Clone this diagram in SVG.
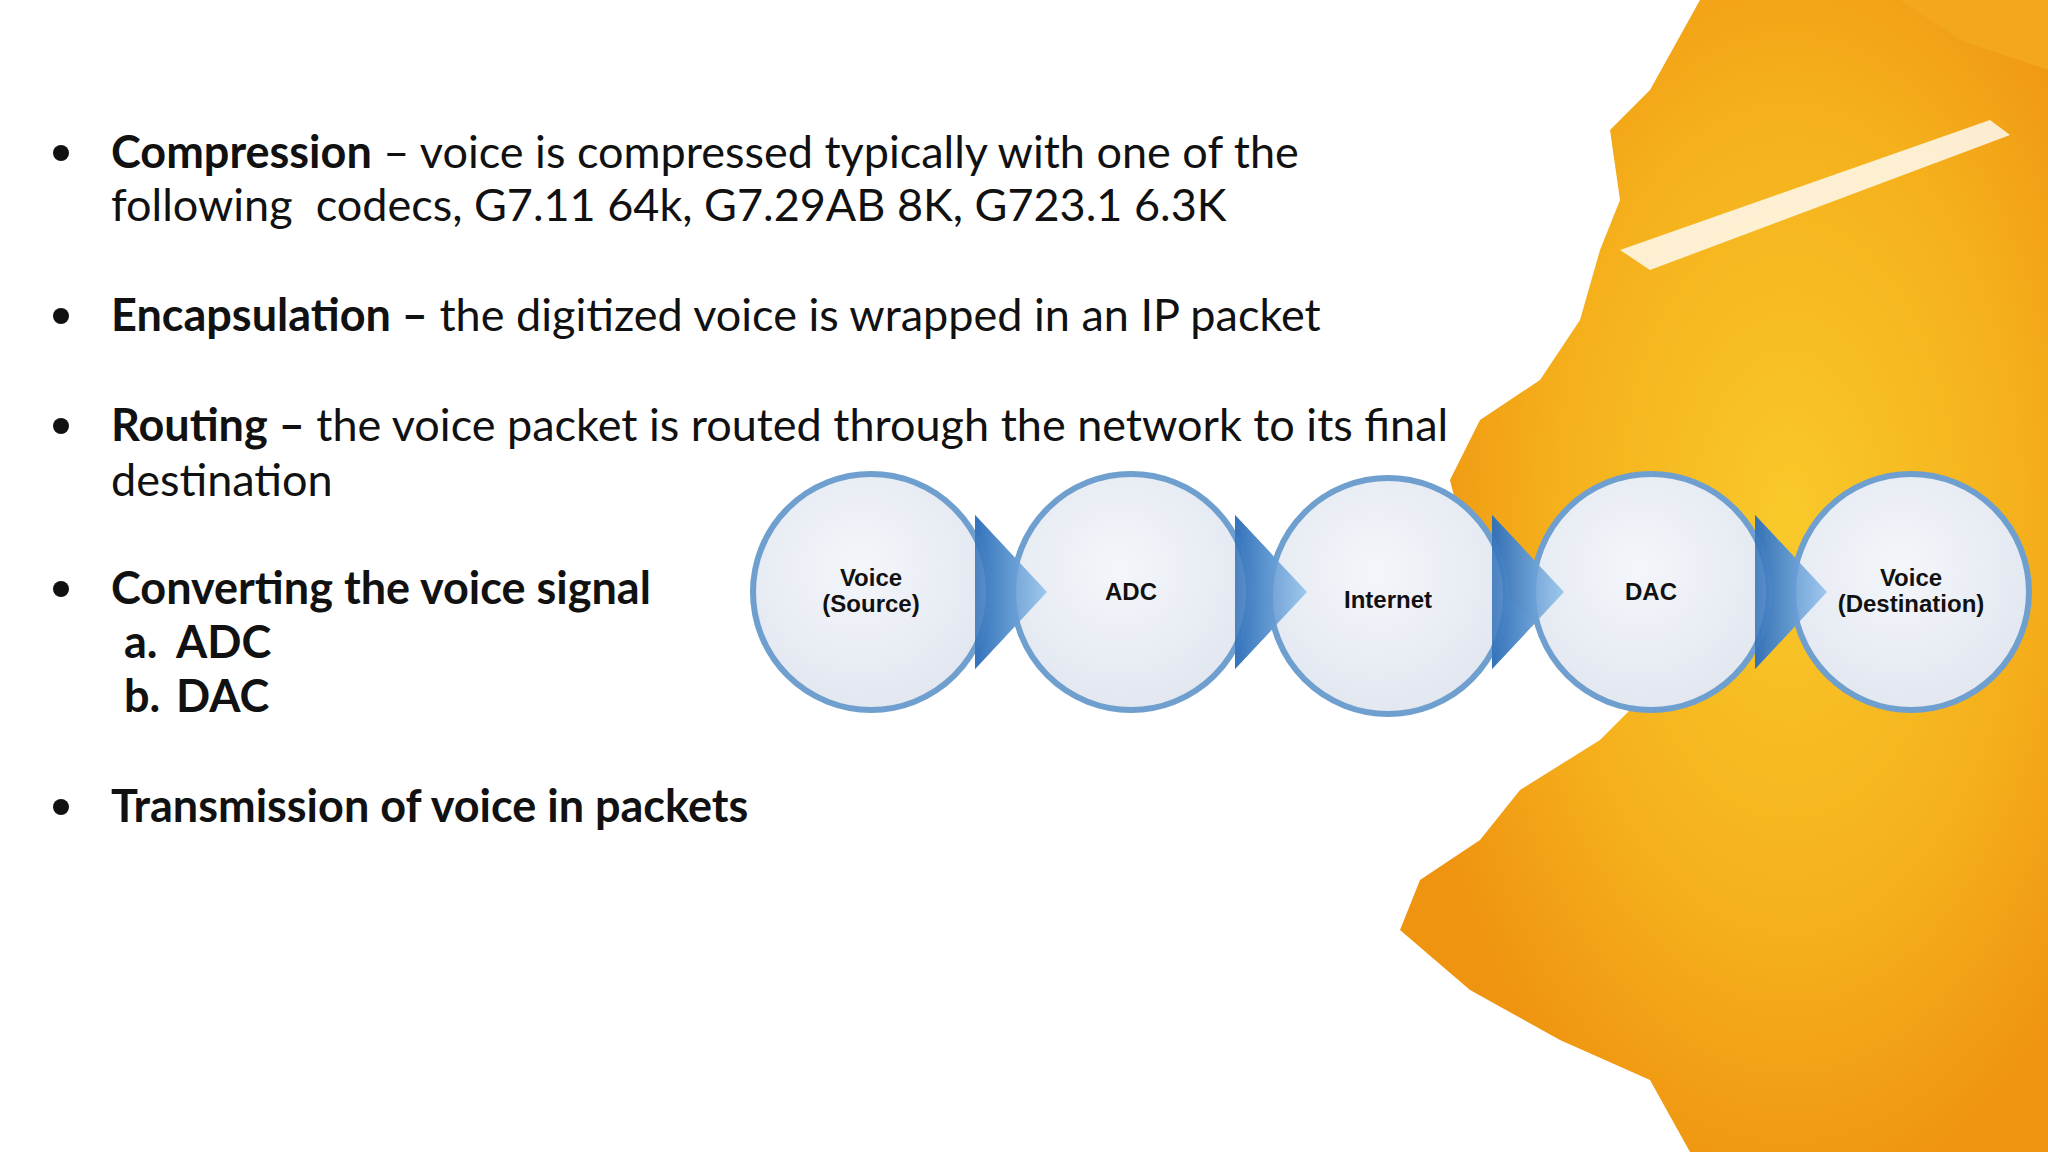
<svg xmlns="http://www.w3.org/2000/svg" width="2048" height="1152" viewBox="0 0 2048 1152">
<defs>
<radialGradient id="splash" cx="0.6" cy="0.45" r="0.6">
<stop offset="0" stop-color="#f9c92a"/><stop offset="0.6" stop-color="#f5b01c"/><stop offset="1" stop-color="#ef9410"/>
</radialGradient>
<linearGradient id="arr" x1="0" y1="0" x2="1" y2="0">
<stop offset="0" stop-color="#2f6fb8"/><stop offset="1" stop-color="#8fc0ec"/>
</linearGradient>
<radialGradient id="cf" cx="0.45" cy="0.4" r="0.6">
<stop offset="0" stop-color="#f4f6fa"/><stop offset="1" stop-color="#e2e7f0"/>
</radialGradient>
<style>
.t{font-family:Lato,"Open Sans",sans-serif;font-size:45px;fill:#111;white-space:pre}
.b{font-weight:bold}
.c{fill:url(#cf);stroke:#6f9fcf;stroke-width:6}
.l{font-family:"Liberation Sans",Arial,sans-serif;font-weight:bold;font-size:24px;fill:#111;text-anchor:middle}
.p{fill:url(#arr);opacity:0.85}
</style>
</defs>
<rect width="2048" height="1152" fill="#fff"/>
<g id="background">
<path d="M1700 0 L2048 0 L2048 1152 L1690 1152 L1650 1080 L1560 1040 L1470 990 L1400 930 L1420 880 L1480 840 L1520 790 L1600 740 L1640 700 L1560 650 L1470 560 L1450 480 L1480 420 L1540 380 L1580 320 L1600 250 L1620 200 L1610 130 L1650 90 Z" fill="url(#splash)"/>
<path d="M1620 250 L1990 120 L2010 135 L1650 270 Z" fill="#fff" opacity="0.8"/>
<path d="M1900 0 L2048 0 L2048 70 L1960 40 Z" fill="#f3a81c"/>
</g>
<g id="text">
<circle cx="61" cy="153" r="8" fill="#111"/>
<text class="t" x="111" y="168"><tspan class="b">Compression</tspan> – voice is compressed typically with one of the</text>
<text class="t" x="111" y="221">following  codecs, G7.11 64k, G7.29AB 8K, G723.1 6.3K</text>
<circle cx="61" cy="316" r="8" fill="#111"/>
<text class="t" x="111" y="331"><tspan class="b">Encapsulation –</tspan> the digitized voice is wrapped in an IP packet</text>
<circle cx="61" cy="426" r="8" fill="#111"/>
<text class="t" x="111" y="441"><tspan class="b">Routing –</tspan> the voice packet is routed through the network to its final</text>
<text class="t" x="111" y="496">destination</text>
<circle cx="61" cy="589" r="8" fill="#111"/>
<text class="t b" x="111" y="604">Converting the voice signal</text>
<text class="t b" x="124" y="658">a.</text><text class="t b" x="176" y="658">ADC</text>
<text class="t b" x="124" y="712">b.</text><text class="t b" x="176" y="712">DAC</text>
<circle cx="61" cy="807" r="8" fill="#111"/>
<text class="t b" x="111" y="822">Transmission of voice in packets</text>
</g>
<g id="connectors">
<path class="p" d="M975 515 L1047 592 L975 669 Z"/>
<path class="p" d="M1235 515 L1307 592 L1235 669 Z"/>
<path class="p" d="M1492 515 L1564 592 L1492 669 Z"/>
<path class="p" d="M1755 515 L1827 592 L1755 669 Z"/>
</g>
<g id="n1"><circle class="c" cx="871" cy="592" r="118"/><text class="l" x="871" y="586">Voice</text><text class="l" x="871" y="612">(Source)</text></g>
<g id="n2"><circle class="c" cx="1131" cy="592" r="118"/><text class="l" x="1131" y="600">ADC</text></g>
<g id="n3"><circle class="c" cx="1388" cy="596" r="118"/><text class="l" x="1388" y="608">Internet</text></g>
<g id="n4"><circle class="c" cx="1651" cy="592" r="118"/><text class="l" x="1651" y="600">DAC</text></g>
<g id="n5"><circle class="c" cx="1911" cy="592" r="118"/><text class="l" x="1911" y="586">Voice</text><text class="l" x="1911" y="612">(Destination)</text></g>
<g id="overlay">
<path class="p" d="M975 515 L1047 592 L975 669 Z" opacity="0.6"/>
<path class="p" d="M1235 515 L1307 592 L1235 669 Z" opacity="0.6"/>
<path class="p" d="M1492 515 L1564 592 L1492 669 Z" opacity="0.6"/>
<path class="p" d="M1755 515 L1827 592 L1755 669 Z" opacity="0.6"/>
</g>
</svg>
